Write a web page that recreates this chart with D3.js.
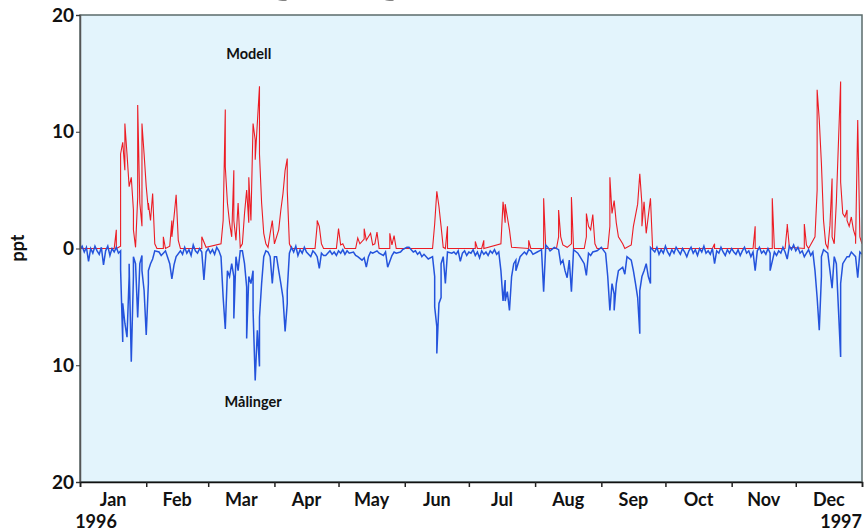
<!DOCTYPE html>
<html>
<head>
<meta charset="utf-8">
<script src="https://cdn.jsdelivr.net/npm/d3@7"></script>
<style>
  body { margin: 0; background: #fff; }
  svg text { font-family: Lato, "Open Sans", sans-serif; }
</style>
</head>
<body>
<div id="chart"></div>
<script>
// data: [day of 1996, salinity deviation ppt]
const modell = [[0,0],[16.5,0],[17,1.6],[17.5,0],[19.2,0.2],[19.6,8.1],[20.3,9.1],[21.1,6.7],[21.9,10.7],[22.7,8.1],[23.5,5.3],[24.3,6.1],[25,3.3],[25.8,1.6],[26.6,0.1],[27.4,4.4],[27.9,12.3],[28.5,3.9],[29.1,1.9],[29.7,10.7],[30.5,8.1],[31.3,5.3],[32.1,3.3],[32.9,3.9],[33.6,2.4],[34.4,4.7],[35.2,0.4],[36,0],[39.5,0],[39.9,1.0],[40.7,0],[42.5,0.2],[43,2.4],[43.8,1.0],[44.6,2.7],[45.4,4.6],[46.2,0.7],[47,0],[57.5,0],[57.9,1.0],[59.2,0.1],[66.5,0.4],[67.3,2.4],[68.1,11.9],[68.9,7.0],[69.6,3.9],[70.4,2.2],[71.2,1.0],[72,6.7],[72.8,2.4],[73.6,0.7],[74.8,3.9],[75.4,0.1],[76.7,0.4],[77.5,3.0],[78.2,5.0],[79,2.2],[79.8,6.1],[80.6,2.4],[81.4,10.7],[82.2,9.3],[82.9,7.6],[84,13.9],[84.8,8.1],[85.6,3.9],[86.4,1.3],[87.3,0.4],[88.4,0.1],[89.5,1.3],[90.5,2.4],[91.5,0.4],[93.9,1.6],[94.7,3.3],[95.5,4.7],[96.2,6.7],[97,7.7],[97.8,5.0],[98.6,0.4],[99.2,0],[110.5,0],[111.2,2.0],[111.9,2.4],[112.7,1.9],[113.5,0.4],[114.3,0],[120.8,0],[121.3,1.7],[122.1,0.3],[123.6,0.4],[124.5,0],[129.8,0],[130.2,0.9],[131.5,0.4],[133,0.8],[133.8,1.7],[134.6,0.7],[136.2,1.3],[137,0.3],[138.5,0.4],[139.6,1.4],[140.4,0],[145,0],[145.5,1.3],[146.3,0.3],[147.1,1.1],[148.4,0],[165.5,0],[166.7,2.1],[167.4,4.9],[168.2,3.6],[169,1.9],[170.3,0.1],[171.8,0],[172.1,1.9],[172.9,0],[185.5,0],[185.9,0.6],[186.3,0],[188.9,0],[189.3,0.7],[189.7,0],[197.9,0.4],[198.3,4.0],[199.1,2.2],[199.9,3.8],[200.7,2.7],[201.5,1.6],[202.6,0.1],[210.5,0],[210.9,0.7],[211.3,0],[217,0],[217.4,4.3],[218,0],[223.8,0],[224.2,1.0],[224.8,3.3],[225.6,1.0],[226.8,0.3],[228.4,0.1],[230,0.4],[230.7,4.4],[231.4,0],[236.5,0],[237,1.0],[237.8,3.0],[238.6,1.9],[239.7,1.6],[240.6,2.9],[241.3,0.4],[242,0],[247.2,0],[248,1.9],[248.7,6.1],[249.5,3.0],[250.3,4.1],[251.1,2.2],[252.6,1.0],[254.2,0.4],[255.3,0],[258.1,0.3],[259.7,1.9],[261.3,3.8],[262.2,6.4],[263,3.8],[263.9,1.9],[264.8,4.0],[265.9,1.3],[267.5,4.3],[268.2,0],[296.8,0],[297.2,0.4],[297.6,0],[315.6,0],[316,1.9],[316.6,0],[324.2,0],[324.6,4.3],[325.2,0],[330.8,0],[331.1,1.9],[331.4,2.1],[332,0.1],[339,0],[339.5,2.1],[340.3,0.3],[341.8,0],[344.8,1.0],[345.3,5.0],[345.8,13.6],[346.6,11.0],[347.4,7.3],[348.2,2.4],[349,0.4],[350.6,0],[351.3,2.0],[352,6.0],[352.8,1.0],[353.6,0.4],[354.6,4.0],[355.1,9.2],[356.1,14.3],[356.7,5.7],[357.5,3.0],[358.3,2.7],[359.1,3.3],[359.9,2.4],[360.6,1.9],[361.4,2.7],[362.2,1.6],[363,1.0],[363.8,0.4],[364.5,11.0],[365.2,1.0],[366,0.4]];

const malinger = [[0,-0.1],[1,0.2],[2,-0.3],[3,0.1],[4,-1.1],[5,0.0],[6,-0.4],[7,0.2],[8,-0.2],[9,-0.5],[10,0.1],[11,-1.4],[12,-0.2],[13,0.2],[14,-0.6],[15,0.0],[16,-0.3],[17,0.1],[18,-0.4],[19,-0.2],[19.6,-1.8],[20,-8.0],[20.8,-4.7],[21.6,-6.4],[22.4,-7.6],[23.2,-2.4],[23.8,-1.3],[24.3,-9.7],[25,-2.4],[25.8,-0.7],[26.6,-1.3],[27.4,-5.9],[28.2,-1.3],[29,-0.6],[29.7,-1.9],[30.5,-3.6],[31.3,-7.4],[32.1,-3.0],[32.9,-1.9],[33.6,-1.3],[34.4,-0.9],[35.7,-0.2],[37,-0.3],[38,-0.6],[39,-0.4],[40.7,-0.2],[42.3,-1.3],[43.5,-2.6],[44.6,-1.4],[45.4,-0.7],[47,-0.2],[48,-0.5],[49,0.1],[50,-0.4],[51,-0.1],[52,-0.6],[53,0.3],[54,-0.2],[55,-0.4],[56,0.0],[57,-0.3],[58.2,-2.7],[59.2,-0.3],[60,0.0],[61,-0.4],[62,-0.1],[63,-0.5],[64,0.1],[65,-0.2],[66.5,-0.7],[67.6,-4.2],[68.4,-6.9],[69.2,-1.9],[70.4,-2.4],[71.2,-1.3],[72,-2.4],[72.5,-6.0],[73.2,-0.7],[74.3,-1.9],[75.1,-0.2],[76.7,-0.2],[77.5,-1.3],[78.2,-3.3],[78.7,-7.7],[79.5,-2.4],[80.1,-3.0],[81,-1.9],[81.7,-5.3],[82.5,-11.3],[83.3,-7.0],[84,-10.1],[84.8,-5.9],[85.6,-3.0],[86.4,-0.7],[87.3,-0.2],[88.4,-0.3],[89.5,-0.7],[90.3,-3.0],[91.2,-0.7],[92.3,-0.7],[93.9,-1.9],[94.7,-3.0],[95.5,-4.2],[96.4,-7.1],[97,-4.7],[97.8,-3.6],[98.6,-0.4],[99.5,0.1],[100.5,-0.3],[101.5,0.2],[102.5,-0.6],[103.5,-0.1],[104.5,-0.4],[105.5,0.1],[106.5,-0.3],[108,-0.7],[109,-0.2],[110,-0.4],[111.4,-0.7],[112.4,-1.7],[113.5,-0.4],[114.5,-0.6],[115.8,-0.6],[117,-0.2],[118,-0.5],[119,-0.3],[120,-0.6],[121,-0.2],[122,-0.4],[123,-0.1],[124,-0.5],[125.2,-0.2],[126.5,-0.4],[128,-0.3],[129,-0.6],[130.7,-0.7],[132.2,-1.0],[133,-0.8],[134.3,-1.6],[135.4,-0.7],[136.5,-0.3],[137.7,-0.4],[139,-0.2],[140.9,-0.4],[142,-0.6],[143,-0.3],[144.8,-1.6],[146.3,-0.6],[147.5,-0.3],[148.5,-0.4],[150.2,-0.3],[151.5,-0.1],[153,0.1],[154.9,0.1],[156,-0.3],[157,-0.2],[158,-0.5],[159.1,-0.3],[160.2,-0.7],[161.5,-0.5],[163.5,-0.9],[165.1,-0.7],[166.2,-2.4],[166.8,-5.0],[167.5,-6.7],[167.9,-9.0],[168.4,-4.7],[169,-4.2],[169.8,-1.3],[170.9,-0.7],[171.8,-3.0],[172.6,-0.3],[174,-0.4],[175.3,-0.3],[176.5,-0.5],[177.5,-0.2],[178.4,-1.1],[179.5,-0.4],[180.5,-0.2],[181.5,-0.6],[182.5,-0.3],[183.5,-0.4],[184.5,-0.1],[185.5,-0.6],[186.5,-0.3],[187.5,-0.8],[188.5,-0.2],[189.5,-0.5],[190.5,-0.3],[191.5,-0.6],[192.5,-0.2],[193.5,-0.4],[194.5,-0.1],[195.5,-0.5],[196.5,-0.3],[197.5,-1.9],[198.3,-4.5],[199.1,-2.7],[199.9,-4.5],[200.7,-3.7],[201.3,-5.3],[202.1,-2.4],[203,-1.3],[204,-1.0],[204.9,-1.9],[206.2,-0.7],[208,-0.3],[209,-0.5],[210,-0.1],[211.2,-0.2],[212.5,-0.5],[214,-0.3],[215.5,-0.2],[216.6,-0.1],[217.6,-3.7],[218.4,0.3],[219.5,0.1],[220.5,-0.2],[222,0.1],[224,-0.1],[225,-1.3],[226,-1.0],[227.6,-1.9],[228.4,-2.5],[229.3,-1.0],[230.7,-3.7],[231.5,-0.1],[233,-0.4],[234.6,-0.7],[236.2,-1.3],[237.3,-2.3],[238.1,-0.4],[239,-0.6],[240.1,-0.3],[242.5,-0.2],[244.5,0.1],[246,-0.4],[247.9,-2.4],[248.4,-5.3],[249.2,-3.0],[250,-3.9],[250.8,-5.3],[251.6,-3.0],[252.6,-1.9],[254.2,-1.6],[255.3,-2.2],[256.6,-0.7],[258.1,-1.0],[259.7,-1.9],[260.5,-3.0],[261.3,-4.2],[262,-7.3],[262.8,-3.6],[263.6,-2.4],[264.4,-1.9],[265.2,-1.3],[266,-2.4],[267,-3.0],[267.8,0.1],[269,-0.3],[270,0.1],[271,-0.5],[272,-0.1],[273,-0.4],[274,0.2],[275,-0.3],[276,-0.6],[277,-0.1],[278,-0.4],[279,0.1],[280,-0.2],[281,-0.5],[282,0.0],[283,-0.3],[284,-0.7],[285,-0.2],[286,0.1],[287,-0.4],[288,-0.1],[289,-0.6],[290,0.0],[291,-0.3],[292,0.2],[293,-0.4],[294,-0.2],[295,-0.5],[296,0.0],[297.2,-1.3],[298,-0.2],[299,-0.4],[300,0.1],[301,-0.3],[302,-0.6],[303,-0.1],[304,-0.4],[305,0.0],[306,-0.3],[307,-0.5],[308,-0.1],[309,-0.6],[310,-0.2],[311,0.1],[312,-0.4],[313,-0.2],[314,-0.7],[315,-0.3],[316,-1.9],[317,-0.2],[318,0.1],[319,-0.4],[320,-0.2],[321,-0.5],[322,0.0],[323,-0.4],[323.8,-1.9],[325,-0.3],[326,-0.6],[327,-0.2],[328,-0.4],[329,0.1],[330,-0.3],[331,-0.9],[332,0.2],[333,-0.1],[334,0.3],[335,-0.2],[336,0.1],[337,-0.4],[338,-0.2],[339,-0.7],[340,-0.4],[341,-0.1],[342,-0.6],[343,-0.3],[344.6,-1.9],[345.3,-4.2],[346.2,-7.0],[347,-2.4],[347.6,-0.7],[348.9,-0.1],[350.4,-0.4],[351.6,-1.9],[352.4,-3.4],[353.2,-0.7],[354.3,-1.3],[355.1,-5.3],[356.1,-9.3],[356.7,-3.0],[357.5,-1.3],[359,-0.7],[360.5,-0.7],[361.9,-0.3],[363.3,-0.7],[364.5,-2.5],[365.3,-0.3],[366,-0.5]];

const months = ['Jan','Feb','Mar','Apr','May','Jun','Jul','Aug','Sep','Oct','Nov','Dec'];
const yTicks = [20, 10, 0, -10, -20];

let dimensions = {
  width: 864,
  height: 531,
  margin: { top: 15, bottom: 49, left: 80, right: 2 }
};
dimensions.ctrWidth = dimensions.width - dimensions.margin.left - dimensions.margin.right;
dimensions.ctrHeight = dimensions.height - dimensions.margin.top - dimensions.margin.bottom;

const svg = d3.select('#chart')
  .append('svg')
  .attr('width', dimensions.width)
  .attr('height', dimensions.height);

// title (cut off at the top edge, only descenders show)
const title = svg.append('text')
  .attr('font-weight', 900)
  .attr('font-size', 48)
  .attr('y', -9)
  .text('Sammenligning');
const tn = title.node();
const g1 = tn.getStartPositionOfChar(8).x, g2 = tn.getStartPositionOfChar(12).x;
title.attr('font-size', 48 * 107 / (g2 - g1));
title.attr('x', 283 - tn.getStartPositionOfChar(8).x - tn.getExtentOfChar(8).width / 2);

const ctr = svg.append('g')
  .attr('transform', `translate(${dimensions.margin.left}, ${dimensions.margin.top})`);

const start = new Date(1996, 0, 1);
const end = new Date(1997, 0, 1);
const dayToDate = d => new Date(1996, 0, 1 + d);

const xScale = d3.scaleTime()
  .domain([start, end])
  .range([0, dimensions.ctrWidth]);
const yScale = d3.scaleLinear()
  .domain([-20, 20])
  .range([dimensions.ctrHeight, 0]);

ctr.append('rect')
  .attr('width', dimensions.ctrWidth)
  .attr('height', dimensions.ctrHeight)
  .attr('fill', '#e3f4fc');

ctr.append('clipPath').attr('id', 'clip')
  .append('rect')
  .attr('width', dimensions.ctrWidth)
  .attr('height', dimensions.ctrHeight);

const line = d3.line()
  .x(d => xScale(dayToDate(d[0])))
  .y(d => yScale(d[1]));

const plot = ctr.append('g').attr('clip-path', 'url(#clip)');
plot.append('path')
  .datum(modell)
  .attr('d', line)
  .attr('fill', 'none')
  .attr('stroke', '#ec1c24')
  .attr('stroke-width', 1.1);
plot.append('path')
  .datum(malinger)
  .attr('d', line)
  .attr('fill', 'none')
  .attr('stroke', '#2453dc')
  .attr('stroke-width', 1.5);

// frame
ctr.append('rect')
  .attr('width', dimensions.ctrWidth)
  .attr('height', dimensions.ctrHeight)
  .attr('fill', 'none')
  .attr('stroke', '#5b6b6b')
  .attr('stroke-width', 1.5);

// y axis
const yAxis = d3.axisLeft(yScale)
  .tickValues(yTicks)
  .tickSize(4)
  .tickFormat(d => Math.abs(d));
const yG = ctr.append('g').call(yAxis);
yG.select('.domain').attr('stroke', '#555').attr('stroke-width', 1.5);
yG.selectAll('.tick line').attr('stroke', '#333');
yG.selectAll('.tick text')
  .attr('font-size', 19)
  .attr('font-weight', 'bold')
  .attr('fill', '#111')
  .attr('x', -6)
  .attr('font-family', 'Lato, sans-serif');

// x axis
const xAxis = d3.axisBottom(xScale)
  .ticks(d3.timeMonth.every(1))
  .tickSize(5)
  .tickFormat('');
const xG = ctr.append('g')
  .attr('transform', `translate(0, ${dimensions.ctrHeight})`)
  .call(xAxis);
xG.select('.domain').attr('stroke', '#111').attr('stroke-width', 1.5);
xG.selectAll('.tick line').attr('stroke', '#222').attr('stroke-width', 1.5);

ctr.append('g')
  .selectAll('text')
  .data(months)
  .join('text')
  .attr('x', (d, i) => (xScale(new Date(1996, i, 1)) + xScale(new Date(1996, i + 1, 1))) / 2)
  .attr('y', dimensions.ctrHeight + 24)
  .attr('text-anchor', 'middle')
  .attr('font-size', 18)
  .attr('font-weight', 'bold')
  .attr('fill', '#111')
  .text(d => d);

ctr.append('text')
  .attr('x', 16)
  .attr('y', dimensions.ctrHeight + 46)
  .attr('text-anchor', 'middle')
  .attr('font-size', 18)
  .attr('font-weight', 'bold')
  .attr('fill', '#111')
  .text('1996');
ctr.append('text')
  .attr('x', dimensions.ctrWidth)
  .attr('y', dimensions.ctrHeight + 46)
  .attr('text-anchor', 'end')
  .attr('font-size', 18)
  .attr('font-weight', 'bold')
  .attr('fill', '#111')
  .text('1997');

// axis title
svg.append('text')
  .attr('transform', 'translate(24, 248) rotate(-90)')
  .attr('text-anchor', 'middle')
  .attr('font-size', 18)
  .attr('font-weight', 'bold')
  .attr('fill', '#111')
  .text('ppt');

// series labels
ctr.append('text')
  .attr('x', xScale(dayToDate(79)))
  .attr('y', yScale(16.2))
  .attr('text-anchor', 'middle')
  .attr('font-size', 14.5)
  .attr('font-weight', 'bold')
  .attr('fill', '#111')
  .text('Modell');
ctr.append('text')
  .attr('x', xScale(dayToDate(81)))
  .attr('y', yScale(-13.6))
  .attr('text-anchor', 'middle')
  .attr('font-size', 14.5)
  .attr('font-weight', 'bold')
  .attr('fill', '#111')
  .text('Målinger');
</script>
</body>
</html>
